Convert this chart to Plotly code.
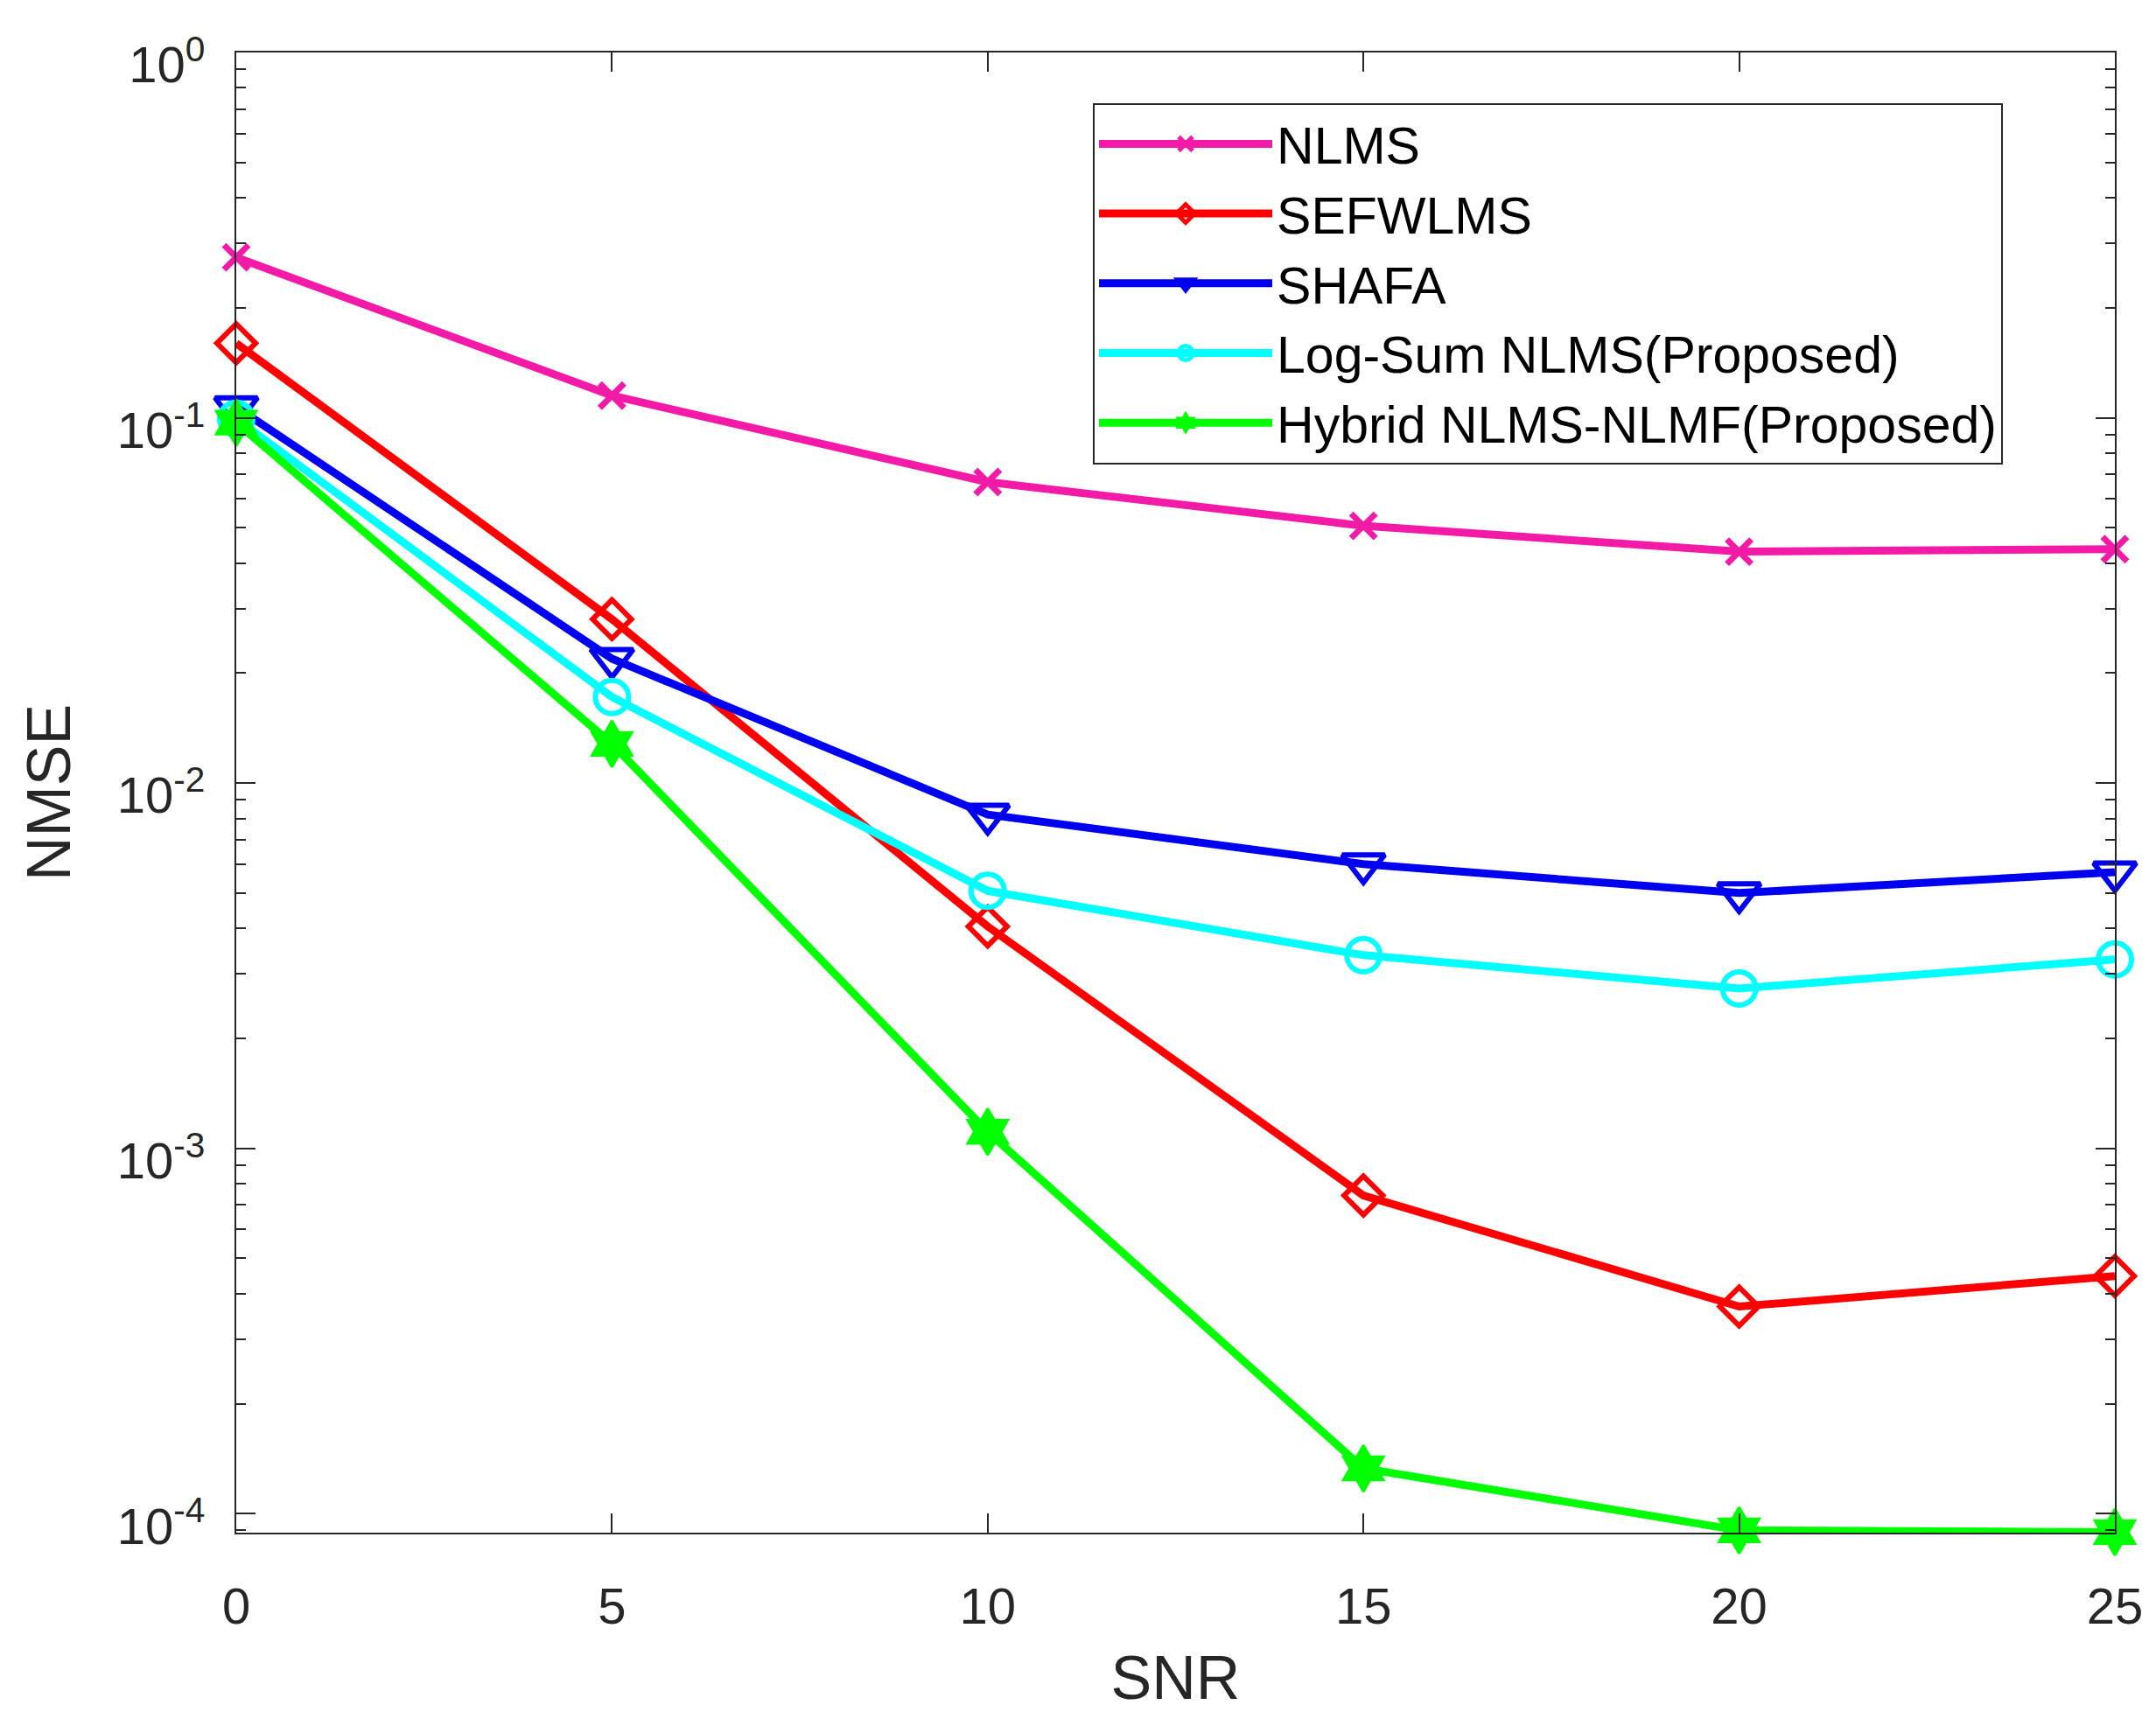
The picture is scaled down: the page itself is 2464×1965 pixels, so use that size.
import numpy as np
import plotly.graph_objects as go

# ---------------- data ----------------
snr = [0, 5, 10, 15, 20, 25]
nlms = [0.275, 0.115, 0.0667, 0.0506, 0.0430, 0.0437]
sefwlms = [0.160, 0.0281, 0.00405, 7.43e-4, 3.69e-4, 4.47e-4]
shafa = [0.107, 0.0219, 0.0082, 0.0060, 0.0050, 0.0057]
logsum = [0.0994, 0.0172, 0.00507, 0.00338, 0.00274, 0.00329]
hybrid = [0.097, 0.0128, 0.00111, 1.33e-4, 9.0e-5, 8.9e-5]

series_names = ["NLMS", "SEFWLMS", "SHAFA", "Log-Sum NLMS(Proposed)", "Hybrid NLMS-NLMF(Proposed)"]
x_ticks = [0, 5, 10, 15, 20, 25]
y_major = [1e0, 1e-1, 1e-2, 1e-3, 1e-4]
y_major_text = ["10<sup>0</sup>", "10<sup>-1</sup>", "10<sup>-2</sup>", "10<sup>-3</sup>", "10<sup>-4</sup>"]

# ---------------- styles ----------------
styles = [
    dict(color="#F21AA6", symbol="x-thin-open", size=28, lw=7),
    dict(color="#FF0000", symbol="diamond-open", size=34, lw=6),
    dict(color="#0000F0", symbol="triangle-down-open", size=42, lw=6),
    dict(color="#00FFFF", symbol="circle-open", size=38, lw=6),
    dict(color="#00FF00", symbol="hexagram", size=40, lw=3),
]
all_series = [nlms, sefwlms, shafa, logsum, hybrid]

FONT = "Liberation Sans, Arial, Helvetica, sans-serif"
AXC = "#262626"

fig = go.Figure()
for name, vals, st in zip(series_names, all_series, styles):
    fig.add_trace(go.Scatter(
        x=snr, y=vals, name=name, mode="lines+markers",
        line=dict(color=st["color"], width=9),
        marker=dict(symbol=st["symbol"], size=st["size"], color=st["color"],
                    line=dict(color=st["color"], width=st["lw"])),
        cliponaxis=False,
    ))

minor_vals = [m * 10.0 ** e for e in range(-5, 0) for m in range(2, 10)]

fig.update_layout(
    width=2464, height=1965,
    margin=dict(l=262, r=55, t=52, b=221),
    paper_bgcolor="white", plot_bgcolor="white",
    font=dict(family=FONT, color=AXC, size=58),
    showlegend=True,
    legend=dict(
        x=0.456, y=0.966, xanchor="left", yanchor="top",
        bgcolor="white", bordercolor="#262626", borderwidth=2,
        font=dict(family=FONT, size=59, color="black"),
        itemwidth=198, tracegroupgap=0,
    ),
    xaxis=dict(
        range=[0, 25], tickvals=x_ticks, ticktext=[str(v) for v in x_ticks],
        ticks="inside", ticklen=22, tickwidth=2, tickcolor=AXC,
        showline=True, linecolor=AXC, linewidth=2, mirror="ticks",
        showgrid=False, zeroline=False,
        tickfont=dict(size=58, color=AXC), ticklabelstandoff=32,
        title=dict(text="SNR", font=dict(size=70, color=AXC), standoff=26),
    ),
    yaxis=dict(
        type="log", range=[np.log10(8.87e-5), 0],
        tickvals=y_major, ticktext=y_major_text,
        ticks="inside", ticklen=22, tickwidth=2, tickcolor=AXC,
        minor=dict(tickvals=minor_vals, ticks="inside", ticklen=11, tickwidth=2, tickcolor=AXC, showgrid=False),
        showline=True, linecolor=AXC, linewidth=2, mirror="ticks",
        showgrid=False, zeroline=False,
        tickfont=dict(size=58, color=AXC), ticklabelstandoff=22, ticklabelshift=14,
        title=dict(text="NMSE", font=dict(size=70, color=AXC), standoff=30),
    ),
)

fig.write_html("out.html")
